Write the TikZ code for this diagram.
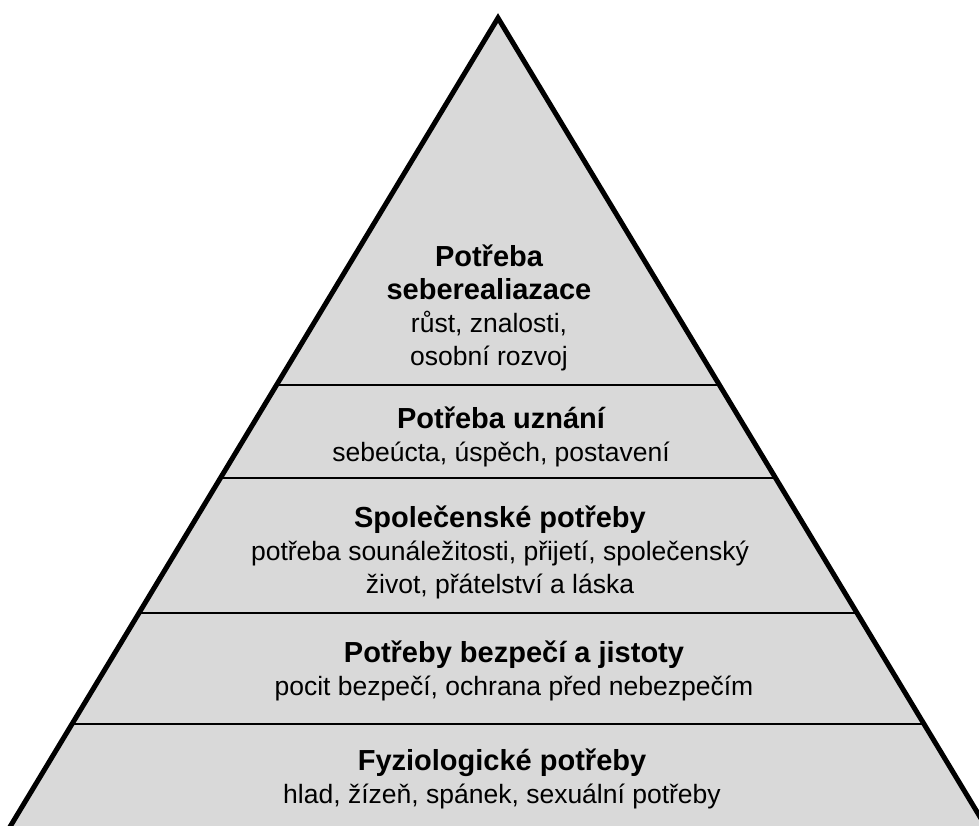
\documentclass[tikz,border=0pt]{standalone}
\usepackage{fontspec}
\setmainfont{Liberation Sans}
\usetikzlibrary{calc}
\definecolor{pyrgray}{HTML}{D9D9D9}
\newcommand{\lvltitle}[1]{{\fontsize{29}{33}\selectfont\bfseries #1}}

\begin{document}
\begin{tikzpicture}[x=1pt, y=-1pt,
		level/.style={align=center, inner sep=0pt, font=\fontsize{26.5}{33}\selectfont},
		divider/.style={line width=2pt}]
		\useasboundingbox (0, 0) rectangle (979, 825);
		\clip (0, 0) rectangle (979, 825);
		
		\coordinate (apex) at (498, 18);
		\coordinate (bl) at (-1, 845);
		\coordinate (br) at (997, 845);
		
		\fill[pyrgray] (apex) -- (bl) -- (br) -- cycle;
		
		% dividers between the levels
		\coordinate (l1) at ($(apex)!0.4438!(bl)$);
		\coordinate (r1) at ($(apex)!0.4438!(br)$);
		\coordinate (l2) at ($(apex)!0.5562!(bl)$);
		\coordinate (r2) at ($(apex)!0.5562!(br)$);
		\coordinate (l3) at ($(apex)!0.7195!(bl)$);
		\coordinate (r3) at ($(apex)!0.7195!(br)$);
		\coordinate (l4) at ($(apex)!0.8537!(bl)$);
		\coordinate (r4) at ($(apex)!0.8537!(br)$);
		\draw[divider] (l1) -- (r1);
		\draw[divider] (l2) -- (r2);
		\draw[divider] (l3) -- (r3);
		\draw[divider] (l4) -- (r4);
		
		\draw[line width=5pt, line join=miter] (bl) -- (apex) -- (br);
		
		\node[level] (self) at (489, 308) {\lvltitle{Potřeba}\\\lvltitle{seberealiazace}\\růst, znalosti,\\osobní rozvoj};
		\node[level] (esteem) at (501, 437) {\lvltitle{Potřeba uznání}\\sebeúcta, úspěch, postavení};
		\node[level] (social) at (500, 552) {\lvltitle{Společenské potřeby}\\potřeba sounáležitosti, přijetí, společenský\\život, přátelství a láska};
		\node[level] (safety) at (514, 671) {\lvltitle{Potřeby bezpečí a jistoty}\\pocit bezpečí, ochrana před nebezpečím};
		\node[level] (physio) at (502, 779) {\lvltitle{Fyziologické potřeby}\\hlad, žízeň, spánek, sexuální potřeby};
	\end{tikzpicture}
\end{document}
